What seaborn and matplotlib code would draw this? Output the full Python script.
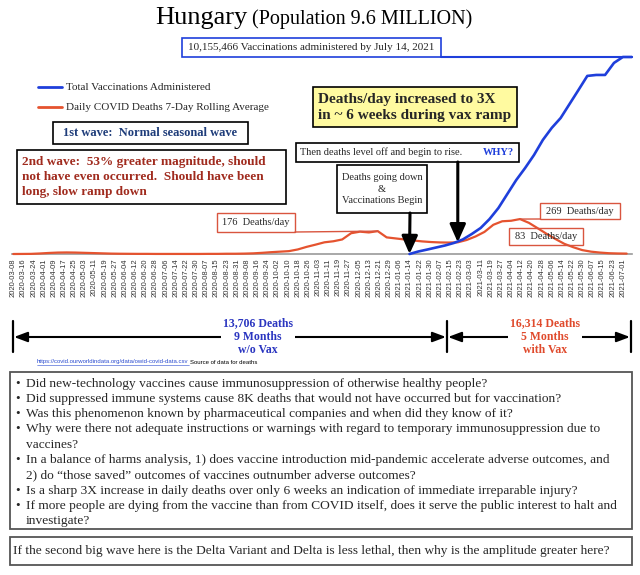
import pandas as pd
import matplotlib
matplotlib.use("Agg")
import matplotlib.pyplot as plt
import matplotlib.dates as mdates
from matplotlib.patches import Rectangle, FancyArrowPatch
from matplotlib.lines import Line2D
import seaborn as sns

# daily covid deaths, 7-day rolling average, read weekly from 2020-03-08
death_start = "2020-03-08"
deaths = [0, 0.5, 1, 4, 8, 11, 12, 11, 9, 7,
          5, 3, 2, 1.5, 1, 1, 0.5, 0.5, 0.5, 0.5,
          0.5, 0.5, 1, 1, 2, 2, 3, 5, 9, 14,
          18, 22, 35, 55, 72, 90, 98, 112, 160, 172,
          166, 176, 128, 120, 112, 104, 97, 92, 89, 88,
          90, 108, 135, 170, 225, 252, 256, 269, 240, 198,
          155, 115, 78, 52, 30, 18, 11, 6, 4, 3]

# total vaccinations administered (millions), weekly from 2021-01-14
vax_start = "2021-01-14"
vax_m = [0, 0.13, 0.23, 0.335, 0.44, 0.57, 0.75, 1.03, 1.34, 1.80,
         2.37, 3.09, 3.81, 4.43, 5.10, 5.88, 6.50, 7.01, 7.73, 8.45,
         9.18, 9.23, 9.23, 9.85, 10.155466, 10.155466]
vax_total_m = 10.155466

tick_start, tick_end = "2020-03-08", "2021-07-01"

questions = [
    "Did new-technology vaccines cause immunosuppression of otherwise healthy people?",
    "Did suppressed immune systems cause 8K deaths that would not have occurred but for vaccination?",
    "Was this phenomenon known by pharmaceutical companies and when did they know of it?",
    "Why were there not adequate instructions or warnings with regard to temporary immunosuppression due to\nvaccines?",
    "In a balance of harms analysis, 1) does vaccine introduction mid-pandemic accelerate adverse outcomes, and\n2) do \u201cthose saved\u201d outcomes of vaccines outnumber adverse outcomes?",
    "Is a sharp 3X increase in daily deaths over only 6 weeks an indication of immediate irreparable injury?",
    "If more people are dying from the vaccine than from COVID itself, does it serve the public interest to halt and\ninvestigate?",
]
last_question = ("If the second big wave here is the Delta Variant and Delta is less lethal, "
                 "then why is the amplitude greater here?")

death_dates = pd.date_range(death_start, periods=len(deaths), freq="7D")
vax_dates = pd.date_range(vax_start, periods=len(vax_m), freq="7D")
tick_dates = pd.date_range(tick_start, tick_end, freq="8D")

RED = "#e5532f"
REDBOX = "#d9553f"
BLUE = "#1f3fdb"
NAVY = "#1f3d7a"
DARKRED = "#a02b1e"

sns.set_theme(style="white")
plt.rcParams["font.family"] = ["Liberation Serif", "DejaVu Serif"]

W, H = 640, 575
fig = plt.figure(figsize=(W / 100, H / 100), dpi=100)


def P(x, y):
    return (x / W, 1 - y / H)


def txt(x, y, s, **kw):
    kw.setdefault("ha", "center")
    kw.setdefault("va", "center")
    return fig.text(x / W, 1 - y / H, s, zorder=5, **kw)


def box(x0, y0, x1, y1, ec="black", fc="none", lw=1.0):
    fig.add_artist(Rectangle((x0 / W, 1 - y1 / H), (x1 - x0) / W, (y1 - y0) / H,
                             transform=fig.transFigure, ec=ec, fc=fc, lw=lw, zorder=4))


def hline(x0, x1, y, **kw):
    fig.add_artist(Line2D([x0 / W, x1 / W], [1 - y / H] * 2, transform=fig.transFigure, **kw))


def vline(x, y0, y1, **kw):
    fig.add_artist(Line2D([x / W] * 2, [1 - y0 / H, 1 - y1 / H], transform=fig.transFigure, **kw))


# main chart
ax = fig.add_axes([12 / W, 1 - 254 / H, 620 / W, 197 / H])
sns.lineplot(x=death_dates, y=deaths, ax=ax, color=RED, lw=1.6)
ax2 = ax.twinx()
sns.lineplot(x=vax_dates, y=vax_m, ax=ax2, color=BLUE, lw=1.9)

x0 = mdates.date2num(pd.Timestamp(death_start))
ax.set_xlim(x0 - 1.02, x0 + 487.2)
ax.set_ylim(0, 1517)
ax2.set_ylim(0, vax_total_m)
ax.set_xticks(tick_dates)
ax.set_xticklabels([d.strftime("%Y-%m-%d") for d in tick_dates], rotation=90,
                   fontsize=5.5, family="Liberation Sans", color="#333333")
ax.tick_params(axis="x", length=0, pad=3)
ax.set_yticks([])
ax2.set_yticks([])
ax.set_xlabel("")
ax.set_ylabel("")
ax2.set_ylabel("")
for s in ["top", "left", "right"]:
    ax.spines[s].set_visible(False)
for s in ax2.spines.values():
    s.set_visible(False)
ax.spines["bottom"].set_color("#9a9a9a")
ax.spines["bottom"].set_linewidth(1.2)
ax.grid(False)
ax2.grid(False)
for l in ax.lines + ax2.lines:
    l.set_clip_on(False)
    l.set_zorder(3)
ax2.axhline(vax_total_m, xmin=(441 - 12) / 620, xmax=1, color=BLUE, lw=1.5, clip_on=False)

# title
txt(247, 24, "Hungary", ha="right", va="baseline", fontsize=19, color="black")
txt(252, 24, "(Population 9.6 MILLION)", ha="left", va="baseline", fontsize=14.5, color="black")

box(182, 38, 441, 57, ec=BLUE, lw=1.2)
txt(311.5, 47.5, "10,155,466 Vaccinations administered by July 14, 2021", fontsize=8)

# legend
hline(38, 62, 87, color=BLUE, lw=2)
txt(66, 87, "Total Vaccinations Administered", ha="left", fontsize=8)
hline(38, 62, 107, color=RED, lw=2)
txt(66, 107, "Daily COVID Deaths 7-Day Rolling Average", ha="left", fontsize=8)

# annotation boxes
box(313, 87, 517, 127, fc="#fffaa0", lw=1.2)
txt(318, 107.5, "Deaths/day increased to 3X\nin ~ 6 weeks during vax ramp", ha="left",
    fontsize=11, fontweight="bold", linespacing=1.3)

box(53, 122, 248, 144, lw=1.2)
txt(150.5, 133, "1st wave:  Normal seasonal wave", fontsize=9, fontweight="bold", color=NAVY)

box(17, 150, 286, 204, lw=1.2)
txt(22, 177, "2nd wave:  53% greater magnitude, should\nnot have even occurred.  Should have been\nlong, slow ramp down",
    ha="left", fontsize=9.5, fontweight="bold", color=DARKRED, linespacing=1.3)

box(296, 143, 519, 162, lw=1.2)
txt(300, 152.5, "Then deaths level off and begin to rise.", ha="left", fontsize=7.5)
txt(514, 152.5, "WHY?", ha="right", fontsize=7.5, fontweight="bold", color=BLUE)

box(337, 165, 427, 213, lw=1.2)
txt(382, 189, "Deaths going down\n&\nVaccinations Begin", fontsize=7.5, linespacing=1.4)

box(217, 213, 295, 232, ec=REDBOX)
txt(256, 222.5, "176  Deaths/day", fontsize=7.5)
box(540, 203, 620, 219, ec=REDBOX)
txt(580, 211, "269  Deaths/day", fontsize=7.5)
box(509, 228, 583, 245, ec=REDBOX)
txt(546, 236.5, "83  Deaths/day", fontsize=7.5)

thin = dict(arrowstyle="-", color=REDBOX, lw=1, shrinkA=0, shrinkB=0)
ax.annotate("", xy=(mdates.date2num(death_dates[41]), deaths[41]), xytext=P(295, 232),
            textcoords="figure fraction", arrowprops=thin, annotation_clip=False)
ax.annotate("", xy=(mdates.date2num(death_dates[57]), deaths[57]), xytext=P(540, 219),
            textcoords="figure fraction", arrowprops=thin, annotation_clip=False)

thick = dict(arrowstyle="-|>,head_length=0.9,head_width=0.4", color="black", lw=2.2,
             shrinkA=0, shrinkB=0)
ax.annotate("", xy=(mdates.date2num(vax_dates[0]), 0), xytext=P(410, 213),
            textcoords="figure fraction", arrowprops=thick, annotation_clip=False)
ax.annotate("", xy=(mdates.date2num(death_dates[50]), deaths[50]), xytext=P(457.8, 162),
            textcoords="figure fraction", arrowprops=thick, annotation_clip=False)

# period spans below the axis
for x in (12.7, 447, 631):
    vline(x, 321, 352, color="black", lw=1.6)
for a, b in ((14, 446), (448, 630)):
    fig.add_artist(FancyArrowPatch(P(a, 337), P(b, 337), transform=fig.transFigure,
                                   arrowstyle="<|-|>,head_length=0.8,head_width=0.3",
                                   mutation_scale=10, lw=1.5, color="black",
                                   shrinkA=0, shrinkB=0, zorder=4))
white = dict(fc="white", ec="none", pad=1.5)
txt(258, 337, "13,706 Deaths\n9 Months\nw/o Vax", fontsize=8.5, fontweight="bold",
    color="#2a35c0", linespacing=1.15, bbox=white)
txt(545, 337, "16,314 Deaths\n5 Months\nwith Vax", fontsize=8.5, fontweight="bold",
    color="#e04a2c", linespacing=1.15, bbox=white)

url = txt(37, 362, "https://covid.ourworldindata.org/data/owid-covid-data.csv", ha="left",
          fontsize=4.3, family="Liberation Sans", color="#2a4bd0")
fig.canvas.draw()
bb = url.get_window_extent()
hline(37, 37 + bb.width, 364.5, color="#2a4bd0", lw=0.4)
txt(39 + bb.width, 362, "Source of data for deaths", ha="left", fontsize=4.3,
    family="Liberation Sans", color="black")

# question boxes
box(10, 372, 632, 529, ec="#555555", lw=1.3)
row = 0
for q in questions:
    for i, line in enumerate(q.split("\n")):
        y = 383.5 + row * 15.3
        if i == 0:
            txt(15, y, "\u2022", ha="left", fontsize=9.6)
        txt(26, y, line, ha="left", fontsize=9.6)
        row += 1

box(10, 537, 632, 565, ec="#555555", lw=1.3)
txt(13, 551, last_question, ha="left", fontsize=9.6)

fig.savefig("out.png", dpi=100)
